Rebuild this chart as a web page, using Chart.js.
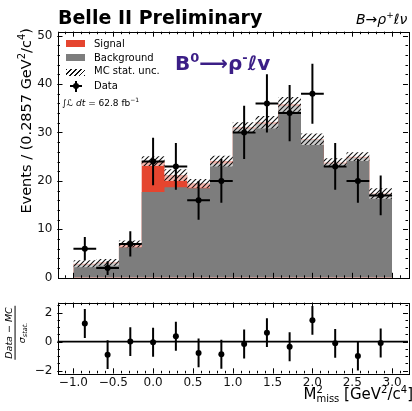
<!DOCTYPE html>
<html>
<head>
<meta charset="utf-8">
<script src="https://cdn.jsdelivr.net/npm/chart.js@4.4.0/dist/chart.umd.min.js"></script>
<style>
body { margin: 0; background: #fff; font-family: 'DejaVu Sans', sans-serif; }
#wrap { position: relative; width: 412px; height: 411px; overflow: hidden; }
.panel { position: absolute; left: 0; width: 412px; }
.txt { position: absolute; white-space: nowrap; color: #000; line-height: 1; }
.rot { position: absolute; width: 0; height: 0; }
.rot > span { position: absolute; left: 0; top: 0; white-space: nowrap; transform-origin: 0 0; line-height: 1; }
.sw { position: absolute; }
</style>
</head>
<body>
<div id="wrap">
  <div class="panel" style="top:0;height:290px"><canvas id="histChart"></canvas></div>
  <div class="panel" style="top:290px;height:121px"><canvas id="pullChart"></canvas></div>

  <div class="txt" style="left:58px;top:8px;font-size:19px;font-weight:bold">Belle II Preliminary</div>
  <div class="txt" style="left:356px;top:11px;font-size:14px;font-style:italic">B→ρ<sup style="font-size:9px">+</sup>ℓν</div>
  <div class="txt" style="left:175px;top:51px;font-size:20px;font-weight:bold;color:#3b1e86">B<sup style="font-size:13px">0</sup>⟶ρ<sup style="font-size:13px">-</sup>ℓv</div>

  <!-- legend -->
  <div class="sw" style="left:66px;top:40px;width:19px;height:7px;background:#e5452f"></div>
  <div class="txt" style="left:94px;top:39px;font-size:10px">Signal</div>
  <div class="sw" style="left:66px;top:54px;width:19px;height:7px;background:#7d7d7d"></div>
  <div class="txt" style="left:94px;top:52.7px;font-size:10px">Background</div>
  <div class="sw" style="left:66px;top:69px;width:19px;height:7px;background:repeating-linear-gradient(135deg,#111 0 1.2px,#fff 1.2px 3.4px)"></div>
  <div class="txt" style="left:94px;top:66.3px;font-size:10px">MC stat. unc.</div>
  <div class="sw" style="left:70px;top:85px;width:12px;height:2px;background:#000"></div>
  <div class="sw" style="left:75px;top:80.5px;width:2px;height:11px;background:#000"></div>
  <div class="sw" style="left:73px;top:83px;width:6px;height:6px;border-radius:3px;background:#000"></div>
  <div class="txt" style="left:94px;top:81px;font-size:10px">Data</div>
  <div class="txt" style="left:62px;top:97px;font-size:9px"><i>∫ℒ dt</i> = 62.8 fb<sup style="font-size:6px">−1</sup></div>

  <!-- axis titles -->
  <div class="rot" style="left:25px;top:28px"><span style="font-size:14.5px;transform:rotate(-90deg) translate(-100%,-50%)">Events / (0.2857 GeV<sup style="font-size:10px">2</sup>/c<sup style="font-size:10px">4</sup>)</span></div>
  <div class="rot" style="left:16px;top:333px"><span style="transform:rotate(-90deg) translate(-50%,-50%)">
    <span style="display:inline-block;text-align:center;font-size:9.5px;font-style:italic">
      <span style="display:block;border-bottom:1px solid #000;padding:0 1px 1px">Data − MC</span>
      <span style="display:block;padding-top:1px">σ<sub style="font-size:6.5px">stat.</sub></span>
    </span></span></div>
  <div class="txt" style="right:-1px;top:385px;font-size:15px">M<span style="display:inline-block;vertical-align:-3px;font-size:10px;line-height:0.9;text-align:left"><span style="display:block">2</span><span style="display:block">miss</span></span> [GeV<sup style="font-size:10px">2</sup>/c<sup style="font-size:10px">4</sup>]</div>
</div>

<script>
/* histogram values, bins of 0.2857 GeV^2/c^4 from -1 to 3 */
const binCenters = [-0.857, -0.571, -0.286, 0.0, 0.286, 0.571, 0.857, 1.143, 1.429, 1.714, 2.0, 2.286, 2.571, 2.857];
const binWidth = 0.2857;
const background = [2.7, 3.0, 6.3, 17.7, 18.7, 18.5, 23.6, 30.8, 31.8, 35.5, 28.5, 23.6, 24.8, 17.3];
const signal = [0.2, 0.2, 0.7, 6.4, 2.5, 1.0, 0.5, 0.3, 0.3, 0.3, 0.1, 0.2, 0.2, 0.1];
const mcUnc = [0.7, 0.7, 0.7, 1.0, 1.2, 0.9, 1.1, 1.0, 1.3, 1.5, 1.2, 0.9, 0.9, 1.1];
const dataCounts = [6, 2, 7, 24, 23, 16, 20, 30, 36, 34, 38, 23, 20, 17];
const dataErr = [2.4, 1.4, 2.6, 4.9, 4.8, 4.0, 4.5, 5.5, 6.0, 5.8, 6.2, 4.8, 4.5, 4.1];
const pulls = [1.25, -0.9, 0.0, -0.05, 0.37, -0.78, -0.87, -0.17, 0.62, -0.35, 1.47, -0.12, -1.0, -0.1];
const pullErr = [1.0, 1.0, 1.0, 1.0, 1.0, 1.0, 1.0, 1.0, 1.0, 1.0, 1.0, 1.0, 1.0, 1.0];
const xTicks = [-1.0, -0.5, 0.0, 0.5, 1.0, 1.5, 2.0, 2.5, 3.0];
const yTicks = [0, 10, 20, 30, 40, 50];
const pullTicks = [-2, 0, 2];

Chart.defaults.font.family = "'DejaVu Sans', sans-serif";
Chart.defaults.color = '#111';
Chart.defaults.animation = false;

const total = background.map((b, i) => b + signal[i]);
const edges = binCenters.map(c => c - binWidth / 2).concat([binCenters[binCenters.length - 1] + binWidth / 2]);
/* one point per bin edge; with stepped:'before' segment [e_i, e_i+1] keeps the value of point i */
const steps = vals => edges.map((e, i) => ({ x: e, y: vals[Math.min(i, vals.length - 1)] }));

function minorRange(lo, hi, step) {
    const out = [];
    for (let v = lo; v <= hi + 1e-9; v += step) out.push(+v.toFixed(3));
    return out;
}

function hatchPattern() {
    const c = document.createElement('canvas');
    c.width = c.height = 5;
    const g = c.getContext('2d');
    g.fillStyle = 'rgba(255,255,255,0.6)';
    g.fillRect(0, 0, 5, 5);
    g.strokeStyle = '#111';
    g.lineWidth = 1.1;
    g.beginPath();
    g.moveTo(0, 5); g.lineTo(5, 0);
    g.moveTo(-1, 1); g.lineTo(1, -1);
    g.moveTo(4, 6); g.lineTo(6, 4);
    g.stroke();
    return g.createPattern(c, 'repeat');
}

/* inward ticks on all four sides + frame (matplotlib style) */
const frameTicks = {
    id: 'frameTicks',
    afterDatasetsDraw(chart, args, o) {
        const { ctx, chartArea: a, scales: { x, y } } = chart;
        ctx.save();
        ctx.strokeStyle = '#000';
        ctx.lineWidth = 1;
        if (o.zeroLine) {
            ctx.lineWidth = 1.6;
            ctx.beginPath();
            const p = y.getPixelForValue(0);
            ctx.moveTo(a.left, p); ctx.lineTo(a.right, p);
            ctx.stroke();
            ctx.lineWidth = 1;
        }
        ctx.beginPath();
        const xs = (vals, len) => vals.forEach(v => {
            const p = Math.round(x.getPixelForValue(v)) + 0.5;
            if (p < a.left || p > a.right) return;
            ctx.moveTo(p, a.bottom); ctx.lineTo(p, a.bottom - len);
            ctx.moveTo(p, a.top); ctx.lineTo(p, a.top + len);
        });
        const ys = (vals, len) => vals.forEach(v => {
            const p = Math.round(y.getPixelForValue(v)) + 0.5;
            if (p < a.top || p > a.bottom) return;
            ctx.moveTo(a.left, p); ctx.lineTo(a.left + len, p);
            ctx.moveTo(a.right, p); ctx.lineTo(a.right - len, p);
        });
        xs(o.xMajor, 5); xs(o.xMinor, 2.5);
        ys(o.yMajor, 5); ys(o.yMinor, 2.5);
        ctx.stroke();
        ctx.strokeRect(Math.round(a.left) + 0.5, Math.round(a.top) + 0.5, Math.round(a.width), Math.round(a.height));
        ctx.restore();
    }
};

/* vertical error bars (and bin-width bars) for the data points */
const errBars = {
    id: 'errBars',
    afterDatasetsDraw(chart, args, o) {
        const { ctx, chartArea: a, scales: { x, y } } = chart;
        ctx.save();
        ctx.beginPath();
        ctx.rect(a.left, a.top, a.width, a.height);
        ctx.clip();
        ctx.strokeStyle = '#000';
        ctx.lineWidth = 2;
        ctx.beginPath();
        o.xs.forEach((xv, i) => {
            const px = x.getPixelForValue(xv);
            ctx.moveTo(px, y.getPixelForValue(o.ys[i] - o.err[i]));
            ctx.lineTo(px, y.getPixelForValue(o.ys[i] + o.err[i]));
            if (o.hw) {
                const py = y.getPixelForValue(o.ys[i]);
                ctx.moveTo(x.getPixelForValue(xv - o.hw), py);
                ctx.lineTo(x.getPixelForValue(xv + o.hw), py);
            }
        });
        ctx.stroke();
        ctx.restore();
    }
};

const fixTicks = list => scale => { scale.ticks = list.map(v => ({ value: v })); };
const fmt = v => (v < 0 ? '−' : '') + Math.abs(v);
const fmt1 = v => (v < 0 ? '−' : '') + Math.abs(v).toFixed(1);

const histLine = (label, vals, extra) => Object.assign({
    label,
    data: steps(vals),
    stepped: 'before',
    borderWidth: 0,
    borderColor: 'transparent',
    pointRadius: 0,
}, extra);

/* Upper panel: stacked histogram */
new Chart(document.getElementById('histChart'), {
    type: 'line',
    data: {
        datasets: [
            {
                label: 'Data',
                data: binCenters.map((c, i) => ({ x: c, y: dataCounts[i] })),
                showLine: false,
                pointRadius: 3,
                pointBackgroundColor: '#000',
                pointBorderWidth: 0,
                order: 1,
            },
            histLine('MC stat. unc.', total.map((t, i) => t + mcUnc[i]), { fill: '+1', backgroundColor: hatchPattern(), order: 2 }),
            histLine('unc low', total.map((t, i) => t - mcUnc[i]), { fill: false, order: 2 }),
            histLine('Background', background, { fill: 'origin', backgroundColor: '#7d7d7d', order: 3 }),
            histLine('Signal', total, { fill: 'origin', backgroundColor: '#e5452f', order: 4 }),
        ],
    },
    options: {
        responsive: true,
        maintainAspectRatio: false,
        devicePixelRatio: 1,
        events: [],
        layout: { padding: { left: 0, right: 2.5, top: 31.7, bottom: 9.3 } },
        plugins: {
            legend: { display: false },
            tooltip: { enabled: false },
            frameTicks: { xMajor: xTicks, xMinor: minorRange(-1.2, 3.2, 0.1), yMajor: yTicks, yMinor: minorRange(0, 50, 2) },
            errBars: { xs: binCenters, ys: dataCounts, err: dataErr, hw: binWidth / 2 },
        },
        scales: {
            x: { type: 'linear', min: -1.2, max: 3.2, display: false },
            y: {
                min: 0, max: 50.8,
                afterBuildTicks: fixTicks(yTicks),
                afterFit: s => { s.width = 57.5; },
                grid: { display: false, drawTicks: false },
                border: { display: false },
                ticks: { padding: 5, font: { size: 12 }, callback: fmt },
            },
        },
    },
    plugins: [frameTicks, errBars],
});

/* Lower panel: pulls */
new Chart(document.getElementById('pullChart'), {
    type: 'line',
    data: {
        datasets: [{
            label: 'pull',
            data: binCenters.map((c, i) => ({ x: c, y: pulls[i] })),
            showLine: false,
            pointRadius: 3,
            pointBackgroundColor: '#000',
            pointBorderWidth: 0,
        }],
    },
    options: {
        responsive: true,
        maintainAspectRatio: false,
        devicePixelRatio: 1,
        events: [],
        layout: { padding: { left: 0, right: 2.5, top: 12.7, bottom: 0 } },
        plugins: {
            legend: { display: false },
            tooltip: { enabled: false },
            frameTicks: { zeroLine: true, xMajor: xTicks, xMinor: minorRange(-1.2, 3.2, 0.1), yMajor: pullTicks, yMinor: minorRange(-2, 2.5, 0.5) },
            errBars: { xs: binCenters, ys: pulls, err: pullErr, hw: 0 },
        },
        scales: {
            x: {
                type: 'linear', min: -1.2, max: 3.2,
                afterBuildTicks: fixTicks(xTicks),
                afterFit: s => { s.height = 37.7; },
                grid: { display: false, drawTicks: false },
                border: { display: false },
                ticks: { padding: 2, maxRotation: 0, font: { size: 12 }, callback: fmt1 },
            },
            y: {
                min: -2.19, max: 2.69,
                afterBuildTicks: fixTicks(pullTicks),
                afterFit: s => { s.width = 57.5; },
                grid: { display: false, drawTicks: false },
                border: { display: false },
                ticks: { padding: 5, font: { size: 12 }, callback: fmt },
            },
        },
    },
    plugins: [frameTicks, errBars],
});
</script>
</body>
</html>
